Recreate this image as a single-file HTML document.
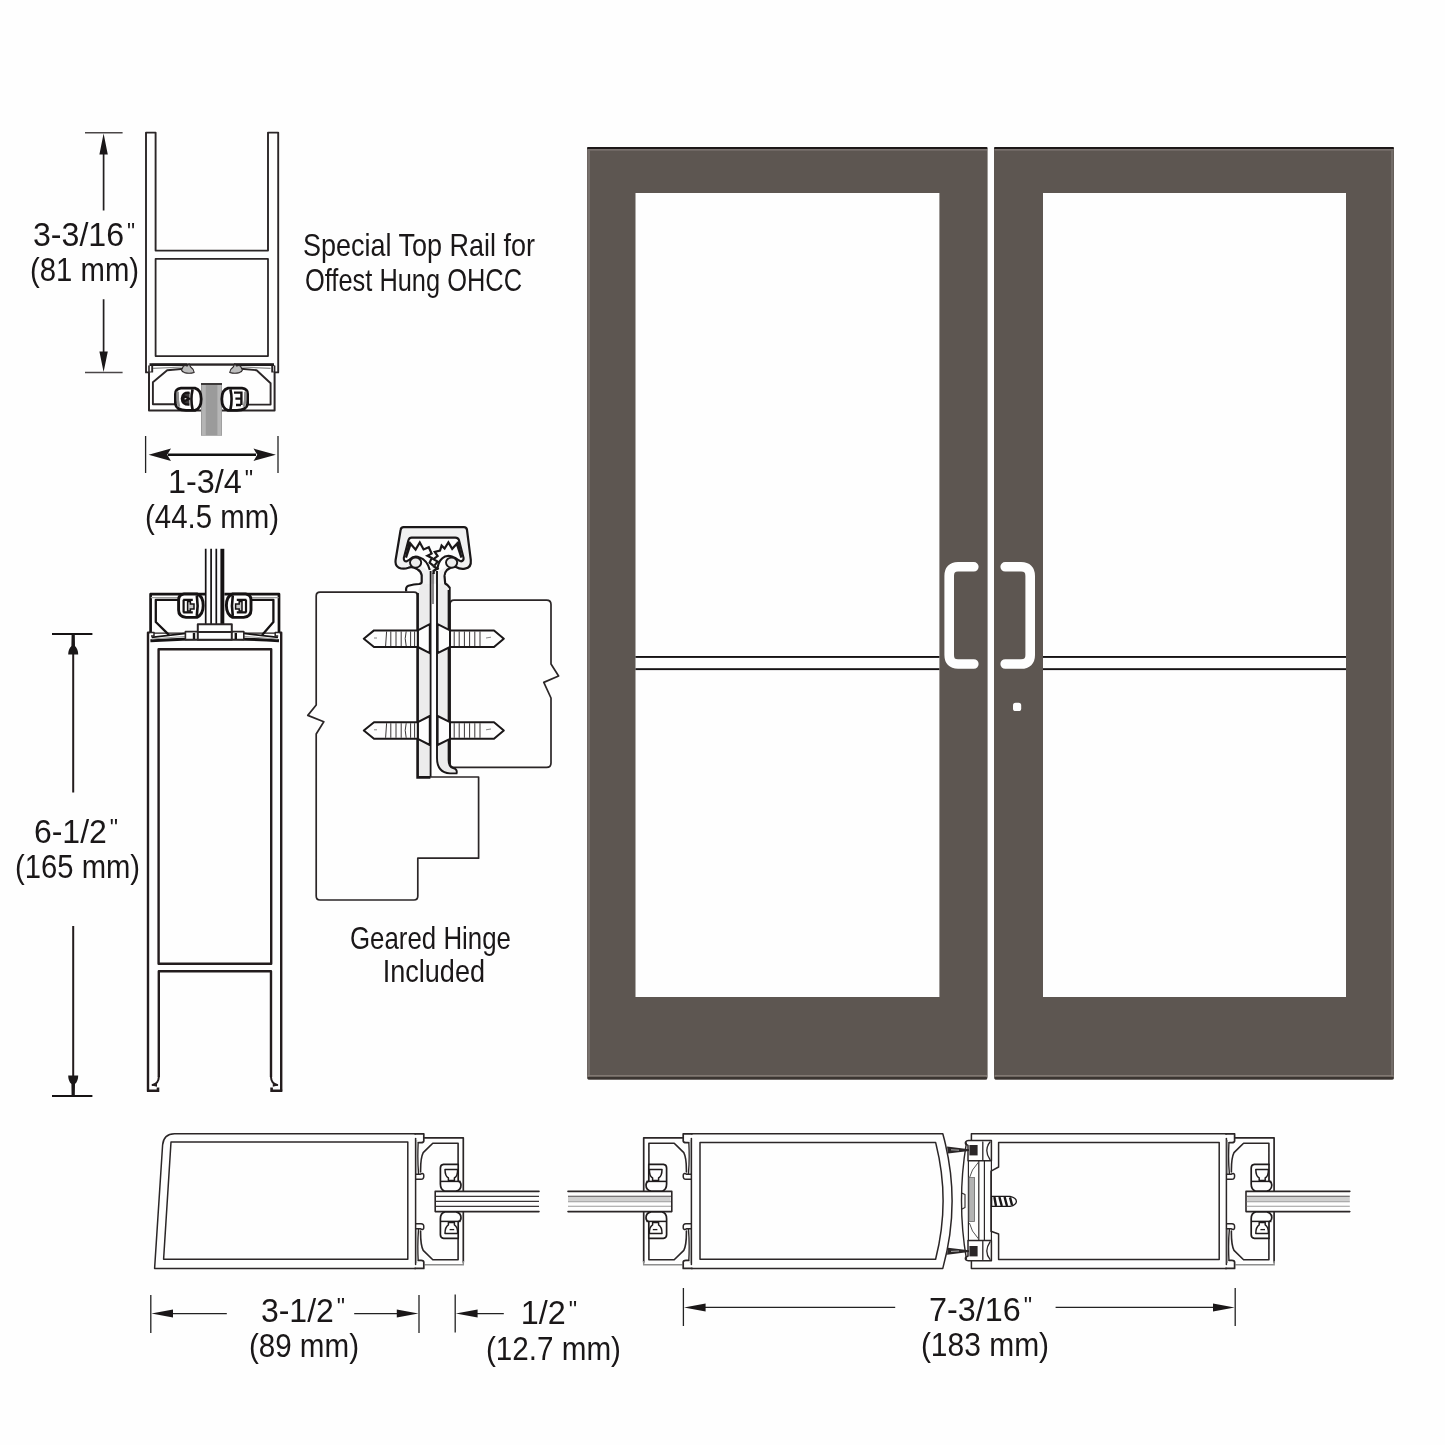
<!DOCTYPE html>
<html>
<head>
<meta charset="utf-8">
<title>Door diagram</title>
<style>
html,body{margin:0;padding:0;background:#fefefe;}
body{width:1445px;height:1445px;overflow:hidden;font-family:"Liberation Sans",sans-serif;}
svg{position:absolute;left:0;top:0;display:block;will-change:transform;}
text{font-family:"Liberation Sans",sans-serif;fill:#1a1718;}
.ln{fill:none;stroke-linejoin:round;stroke-linecap:round;}
.lw{stroke-linejoin:round;}
.lw:not([fill]){fill:#fefefe;}
.ln:not([stroke]),.lw:not([stroke]){stroke:#2b2627;}
.ln:not([stroke-width]),.lw:not([stroke-width]){stroke-width:1.6;}
.thin{fill:none;stroke:#2b2627;stroke-width:1.1;}
.dim{fill:none;stroke:#222;}
.dim:not([stroke-width]){stroke-width:1.3;}
.blk{fill:#1a1718;stroke:none;}
</style>
</head>
<body>
<svg width="1445" height="1445" viewBox="0 0 1445 1445">
<defs>
<linearGradient id="dg" x1="0" y1="0" x2="1" y2="0">
<stop offset="0" stop-color="#5c5651"/><stop offset="0.5" stop-color="#5f5853"/><stop offset="1" stop-color="#5b5450"/>
</linearGradient>
</defs>


<!-- DOORS -->
<g id="doors">
<!-- left door -->
<rect x="587" y="147" width="400.6" height="932.6" rx="2.5" fill="#5d5651"/>
<rect x="587" y="147" width="400.6" height="2.200" rx="1.1" fill="#1d1818"/>
<rect x="587.6" y="149" width="399.4" height="1.6" fill="#7b7370"/>
<rect x="587.4" y="150" width="2.6" height="928" fill="#77706c"/>
<rect x="587.6" y="1075.2" width="399.4" height="1.6" fill="#8a817a"/>
<rect x="587.6" y="1076.8" width="399.4" height="2.8" rx="1.2" fill="#3b3531"/>
<rect x="635.5" y="193" width="303.9" height="804" fill="#fefefe"/>
<!-- right door -->
<rect x="994" y="147" width="400" height="932.6" rx="2.5" fill="#5d5651"/>
<rect x="994" y="147" width="400" height="2.200" rx="1.1" fill="#1d1818"/>
<rect x="994.6" y="149" width="399" height="1.6" fill="#7b7370"/>
<rect x="1391" y="150" width="2.4" height="928" fill="#736c68"/>
<rect x="994.6" y="1075.2" width="399" height="1.6" fill="#8a817a"/>
<rect x="994.6" y="1076.8" width="399" height="2.8" rx="1.2" fill="#3b3531"/>
<rect x="1043" y="193" width="303" height="804" fill="#fefefe"/>
<!-- mid rails -->
<rect x="635.5" y="656" width="303.9" height="1.9" fill="#151213"/>
<rect x="635.5" y="668.2" width="303.9" height="1.9" fill="#151213"/>
<rect x="1043" y="656" width="303" height="1.9" fill="#151213"/>
<rect x="1043" y="668.2" width="303" height="1.9" fill="#151213"/>
<!-- handles -->
<path d="M973.8 566.8 H958 Q949.2 566.8 949.2 576 V655 Q949.2 664 958 664 H973.8" fill="none" stroke="#fefefe" stroke-width="9.6" stroke-linecap="round"/>
<path d="M1005.2 566.8 H1021 Q1030.2 566.8 1030.2 576 V655 Q1030.2 664 1021 664 H1005.2" fill="none" stroke="#fefefe" stroke-width="9.6" stroke-linecap="round"/>
<rect x="1013" y="702.8" width="8.2" height="8.2" rx="2.6" fill="#fefefe"/>
</g>

<!-- TEXT -->
<g id="labels">
<text id="t0" x="33.0" y="246.3" font-size="34.0" textLength="102.0" lengthAdjust="spacingAndGlyphs">3-3/16<tspan font-size="24" dx="3" dy="-6.4">&quot;</tspan></text>
<text id="t1" x="30.0" y="281.0" font-size="33.0" textLength="109.1" lengthAdjust="spacingAndGlyphs">(81 mm)</text>
<text id="t2" x="303.0" y="255.9" font-size="31.4" textLength="232.0" lengthAdjust="spacingAndGlyphs">Special Top Rail for</text>
<text id="t3" x="305.0" y="290.6" font-size="31.4" textLength="217.0" lengthAdjust="spacingAndGlyphs">Offest Hung OHCC</text>
<text id="t4" x="167.9" y="493.0" font-size="33.0" textLength="85.2" lengthAdjust="spacingAndGlyphs">1-3/4<tspan font-size="24" dx="3" dy="-6.4">&quot;</tspan></text>
<text id="t5" x="145.0" y="527.6" font-size="33.0" textLength="134.1" lengthAdjust="spacingAndGlyphs">(44.5 mm)</text>
<text id="t6" x="33.9" y="842.6" font-size="33.0" textLength="84.1" lengthAdjust="spacingAndGlyphs">6-1/2<tspan font-size="24" dx="3" dy="-6.4">&quot;</tspan></text>
<text id="t7" x="15.0" y="878.0" font-size="33.0" textLength="125.1" lengthAdjust="spacingAndGlyphs">(165 mm)</text>
<text id="t8" x="350.0" y="949.0" font-size="31.4" textLength="161.0" lengthAdjust="spacingAndGlyphs">Geared Hinge</text>
<text id="t9" x="382.7" y="982.0" font-size="31.4" textLength="102.3" lengthAdjust="spacingAndGlyphs">Included</text>
<text id="t10" x="260.9" y="1321.5" font-size="33.0" textLength="84.1" lengthAdjust="spacingAndGlyphs">3-1/2<tspan font-size="24" dx="3" dy="-6.4">&quot;</tspan></text>
<text id="t11" x="248.9" y="1356.8" font-size="33.0" textLength="110.1" lengthAdjust="spacingAndGlyphs">(89 mm)</text>
<text id="t12" x="520.8" y="1324.3" font-size="33.0" textLength="56.3" lengthAdjust="spacingAndGlyphs">1/2<tspan font-size="24" dx="3" dy="-6.4">&quot;</tspan></text>
<text id="t13" x="485.9" y="1359.6" font-size="33.0" textLength="135.1" lengthAdjust="spacingAndGlyphs">(12.7 mm)</text>
<text id="t14" x="929.0" y="1320.7" font-size="33.0" textLength="103.1" lengthAdjust="spacingAndGlyphs">7-3/16<tspan font-size="24" dx="3" dy="-6.4">&quot;</tspan></text>
<text id="t15" x="920.9" y="1356.0" font-size="33.0" textLength="128.2" lengthAdjust="spacingAndGlyphs">(183 mm)</text>
</g>

<!-- TOP RAIL -->
<g id="toprail">
<!-- U walls + outer -->
<path class="lw" stroke-width="1.9" d="M146 132.6 H155.6 V250.6 H268 V132.6 H278.2 V372.4 H272.2 V364.800 H152.2 V372.4 H146 Z"/>
<rect class="lw" x="155.6" y="258.9" width="112.4" height="97.2" stroke-width="1.8"/>
<!-- rail bottom thick line -->
<path d="M149.5 364.6 H187 M234 364.6 H274" stroke="#1f1b1c" stroke-width="2.6" fill="none"/>
<path d="M187 364.2 H234" stroke="#2b2627" stroke-width="1.2" fill="none"/>
<!-- channel outer -->
<path class="lw" stroke-width="2" d="M149 372.6 V410.6 H274.6 V372.6"/>
<path class="ln" d="M149 366 V372.6 M274.6 366 V372.6"/>
<!-- channel inner -->
<path class="lw" stroke-width="1.9" fill="#fefefe" d="M183.8 368.8 L167.2 370.2 L152.9 382.2 V404.2 H176 M248 404.6 H270.6 V383.2 L256.6 370.2 L241 368.8"/>
<path d="M153 368.400 L183 367 M270.600 368.400 L241 367" fill="none" stroke="#8a8a8a" stroke-width="1.200"/>
<!-- clips -->
<path d="M183.5 366 q2 -1.2 3.6 0 l2 -2 l1.6 3 q3 2 3.4 5.4 q-4.6 1.6 -9.6 0.2 q-2.6 -1 -3 -2.6 z" fill="#bdbdbd" stroke="#2b2627" stroke-width="1.1"/>
<path d="M240.4 366 q-2 -1.2 -3.6 0 l-2 -2 l-1.6 3 q-3 2 -3.4 5.4 q4.6 1.6 9.6 0.2 q2.6 -1 3 -2.6 z" fill="#bdbdbd" stroke="#2b2627" stroke-width="1.1"/>
<!-- glass -->
<rect x="201" y="383.4" width="21" height="52.4" fill="#9b9b9b"/>
<rect x="202" y="385" width="3.800" height="50.8" fill="#b4b4b4"/>
<rect x="217.400" y="385" width="3.800" height="50.8" fill="#b6b6b6"/>
<rect x="201" y="383" width="21" height="2" fill="#3d3a3a"/>
<!-- gaskets -->
<path d="M181 388.200 H195 Q201.200 390 201.200 399 Q201.200 408.400 195 410.400 H186 Q176.4 410 175.400 404 V394 Q175.400 388.800 181 388.200 Z" fill="#fefefe" stroke="#151213" stroke-width="2.800"/>
<path d="M177.600 391.600 Q177.200 400 179 406.800" fill="none" stroke="#8d8d8d" stroke-width="2.600"/>
<path d="M192.600 389.400 Q190.200 399.400 192.600 409.600" fill="none" stroke="#151213" stroke-width="2.600"/>
<path d="M189.600 392.800 Q182 392 181.800 398.600 Q182 404.800 189.400 404.600 M183.600 396 l5.600 2.800 l-5.600 2.800 z" fill="#151213" stroke="#151213" stroke-width="2.200" stroke-linejoin="round" fill-opacity="0.850"/>
<path d="M242 388.200 H228 Q221.800 390 221.800 399 Q221.800 408.400 228 410.400 H237 Q246.600 410 247.600 404 V394 Q247.600 388.800 242 388.200 Z" fill="#fefefe" stroke="#151213" stroke-width="2.800"/>
<path d="M245.400 391.600 Q245.800 400 244 406.800" fill="none" stroke="#8d8d8d" stroke-width="2.600"/>
<path d="M230.400 389.400 Q232.800 399.400 230.400 409.600" fill="none" stroke="#151213" stroke-width="2.600"/>
<path d="M234 392.600 H241.400 V405 M241.400 398.600 H235.400 M236 405 H241" fill="none" stroke="#151213" stroke-width="2.400"/>
<!-- dimension 1-3/4 -->
<path class="dim" d="M145.6 436 V473 M278 436 V473"/>
<path d="M168 454.8 H256" stroke="#111" stroke-width="2.5" fill="none"/>
<path class="blk" d="M148.6 454.8 L171 448.6 L167.2 454.8 L171 461 Z M275.9 454.8 L253.5 448.6 L257.3 454.8 L253.5 461 Z"/>
<!-- dimension 3-3/16 -->
<path d="M85 132.8 H122.6 M85 372.600 H122.6" fill="none" stroke="#4a4647" stroke-width="1.5"/>
<path d="M103.6 150 V210.600 M103.6 299.300 V354" fill="none" stroke="#231f20" stroke-width="1.700"/>
<path class="blk" d="M103.6 133.400 L99.400 154.400 H107.800 Z M103.6 372 L99.400 351.600 H107.800 Z"/>
</g>

<!-- BOTTOM RAIL -->
<g id="botrail">
<!-- rail body -->
<path d="M148 632.6 H281.2 V1091.4 H148 Z" fill="#fefefe" stroke="none"/>
<path d="M160 972 H270 V1092.600 H160 Z" fill="#fefefe" stroke="none"/>
<path fill="none" stroke="#231c1d" stroke-width="2.4" stroke-linejoin="round" d="M148 1091.4 V632.6 H281.2 V1091.4 M158.8 1077 V971.2 H271 V1077"/>
<path fill="none" stroke="#231c1d" stroke-width="2" stroke-linecap="round" d="M158.8 1077 Q158.600 1083.400 152.600 1085 M271 1077 Q271.200 1083.400 277.200 1085"/>
<path fill="none" stroke="#231c1d" stroke-width="2.6" d="M147 1090.800 H158 V1087.400 M282.200 1090.800 H271.600 V1087.400"/>
<path d="M152 1085.600 l5 -1.800 v3 z M277.800 1085.600 l-5 -1.800 v3 z" fill="#231c1d"/>
<rect class="lw" x="158.6" y="649.2" width="112.6" height="314.6" stroke="#231c1d" stroke-width="2.4"/>
<!-- channel -->
<path class="lw" stroke-width="2.700" stroke="#151213" d="M150.6 632.6 V594.2 H279 V632.6"/>
<path class="ln" stroke="#151213" stroke-width="2.300" d="M180 599.8 H155.8 V622 L168.4 634.4 M251 599.8 H273.4 V622 L262.6 634.4"/>
<path d="M150.8 597.6 H200 M229 597.6 H278.6" stroke="#9a9a9a" stroke-width="1.2" fill="none"/>
<!-- bottom thick bar of channel -->
<path d="M150.4 640.8 Q215 636.5 279 640.8" stroke="#151213" stroke-width="3" fill="none"/>
<path d="M151.6 637.4 L186 633.4 M278 637.4 L243.6 633.4" stroke="#151213" stroke-width="1.6" fill="none"/>
<path d="M152 639 L190 636 M277.4 639 L239.6 636" stroke="#9a9a9a" stroke-width="1" fill="none"/>
<path class="lw" stroke-width="1.5" d="M149 632.6 h5 v3.4 h-3 M280.2 632.6 h-5 v3.4 h3"/>
<!-- glass -->
<rect x="205" y="548.8" width="19.4" height="76" fill="#fefefe"/>
<path d="M205.7 548.8 V624 M211.1 548.8 V624 M216.3 548.8 V624" stroke="#151213" stroke-width="1.7" fill="none"/>
<rect x="220.4" y="548.8" width="3.9" height="76" fill="#151213"/>
<!-- setting block -->
<rect class="lw" x="185.4" y="631.6" width="58.4" height="8" stroke-width="1.6"/>
<rect class="lw" x="197.8" y="624.2" width="34" height="15.6" stroke-width="2"/>
<path class="ln" stroke-width="1.8" d="M197.8 632 H231.8"/>
<path d="M194 633 v6 M235.8 633 v6" stroke="#151213" stroke-width="2.4"/>
<!-- gaskets -->
<path d="M184 594 H197 Q203.2 596 203.2 605.6 Q203.2 614.6 197 617.4 H186 Q178.6 616.6 178.6 610 V600 Q178.6 594.6 184 594 Z" fill="#fefefe" stroke="#151213" stroke-width="2.900"/>
<path d="M196.8 595.4 Q198.4 605.6 196.8 616" fill="none" stroke="#151213" stroke-width="2.6"/>
<path d="M183.2 599.8 h9.6 M183.2 612.4 h9.6 M183.6 599.8 v12.6" fill="none" stroke="#151213" stroke-width="2.200"/>
<path d="M187.6 601.4 h2.8 v2.6 h3.6 v5 h-3.6 v2 h-2.8 z" fill="#c9c9c9" stroke="#151213" stroke-width="1.5"/>
<path d="M245.6 594 H232.6 Q226.4 596 226.4 605.6 Q226.4 614.6 232.6 617.4 H243.6 Q251 616.6 251 610 V600 Q251 594.6 245.6 594 Z" fill="#fefefe" stroke="#151213" stroke-width="2.900"/>
<path d="M232.8 595.4 Q231.2 605.6 232.8 616" fill="none" stroke="#151213" stroke-width="2.6"/>
<path d="M246.4 599.8 h-9.6 M246.4 612.4 h-9.6 M246 599.8 v12.6" fill="none" stroke="#151213" stroke-width="2.200"/>
<path d="M242 601.4 h-2.8 v2.6 h-3.6 v5 h3.6 v2 h2.8 z" fill="#c9c9c9" stroke="#151213" stroke-width="1.5"/>
<!-- dimension 6-1/2 -->
<path d="M52 634 H92.4 M52 1096 H92.4" stroke="#151213" stroke-width="2" fill="none"/>
<path d="M73.2 650 V792.6 M73.2 926 V1080" stroke="#231c1d" stroke-width="2" fill="none"/>
<path class="blk" d="M71.6 634.6 H74.8 L75 646 Q78.2 649 78.2 654.6 H68.2 Q68.2 649 71.4 646 Z M71.6 1095.4 H74.8 L75 1084 Q78.2 1081 78.2 1075.4 H68.2 Q68.2 1081 71.4 1084 Z"/>
</g>

<!-- HINGE -->
<g id="hinge">
<!-- left block -->
<path class="lw" stroke-width="1.7" d="M320 592.2 H414 Q417.8 592.2 417.8 596 V777 H478.6 V858.2 H417.8 V896 Q417.8 900 414 900 H320 Q316.2 900 316.2 896 V734 L323.8 721.8 L307.8 715.4 L316.2 705 V596 Q316.2 592.2 320 592.2 Z"/>
<!-- right block -->
<path class="lw" stroke-width="1.7" d="M454 600.2 H546.6 Q551 600.2 551 604.6 V664 L558.6 676 L543.8 682.4 L551 698 V763 Q551 767.4 546.6 767.4 H454 Q450 767.4 450 763 V604.6 Q450 600.2 454 600.2 Z"/>
<!-- stem leaves -->
<path d="M418.4 590 V776.8 H430.4 V566 H421.7 V583 Z" fill="#ececec" stroke="none"/>
<path d="M437 566 V758 Q437 772.6 450 773.4 H456.6 Q457.6 769 453 768 Q448.6 767 448.6 760 V587 L445.2 583.5 L444.5 566 Z" fill="#ececec" stroke="none"/>
<path d="M417.600 593 V777.4 H430.4" stroke="#1a1718" stroke-width="2.6" fill="none"/>
<path d="M449.8 587 V764" stroke="#1a1718" stroke-width="1.8" fill="none"/>
<!-- cap -->
<path d="M421.7 584 V575.2 Q421 571 417.6 569.4 Q412 566 408.4 567.8 Q403 569.8 398.4 567.4 Q394.8 565 395.6 560 L400.6 530 Q401 527.2 403.6 527.2 H464 Q466.6 527.2 467 530 L470.8 560 Q471.6 567.8 465 568.6 Q460 569.4 456 567 Q451 566.6 446.8 570.2 Q444.4 572.6 444.5 575.9 L445.2 583.5 Z" fill="#f1f1f1" stroke="none"/>
<path d="M406.2 591.4 Q405.4 587 408.4 585.8 Q414 584.2 419 584 Q421.7 583.6 421.7 582 V575.2 Q421 571 417.6 569.4 Q412 566 408.4 567.8 Q403 569.8 398.4 567.4 Q394.8 565 395.6 560 L400.6 530 Q401 527.2 403.6 527.2 H464 Q466.6 527.2 467 530 L470.8 560 Q471.6 567.8 465 568.6 Q460 569.4 456 567 Q451 566.6 446.8 570.2 Q444.4 572.6 444.5 575.9 L445.2 583.5 L447.4 585 L449.6 587.4" fill="none" stroke="#1a1718" stroke-width="2.2" stroke-linejoin="round"/>
<!-- cap inner cavity -->
<path d="M411.6 537.6 H455.4 Q458 537.6 459 540.2 L463.6 558 Q463.8 561 461 561.4 L457.6 559 Q452 554.6 447.6 558 Q444.4 561.6 446.6 566.6 L437.6 572 L437 566 L431 566 L430.4 572 L421.6 566 Q423.4 560.6 419.6 557.6 Q414.6 554.6 409.6 559.6 L406.6 561.4 Q403.6 561.4 403.8 558 L408.4 540.2 Q409.2 537.6 411.6 537.6 Z" fill="#fdfdfd" stroke="none"/>
<path d="M437.4 570 Q438 562 442 558.6 Q446 554.6 452 556.4 Q456 557.6 458.6 560.2 L461 561.4 Q463.8 561 463.6 558 L459 540.2 Q458 537.6 455.4 537.6 H411.6 Q409.2 537.6 408.4 540.2 L403.8 558 Q403.6 561.4 406.6 561.4 L409.6 559.6 Q414.6 554.6 419.6 557.6 Q427 560 429.8 570" fill="none" stroke="#1a1718" stroke-width="2.1" stroke-linejoin="round"/>
<!-- knuckle circles -->
<ellipse cx="415.6" cy="562.6" rx="5.6" ry="5" fill="#ececec" stroke="#1a1718" stroke-width="1.9"/>
<ellipse cx="451.6" cy="562.6" rx="5.6" ry="5" fill="#ececec" stroke="#1a1718" stroke-width="1.9"/>
<path d="M409 557 L413 556 L421 558 L424 566 L422 571 L410 566 Z" fill="#ececec" stroke="none" opacity="0"/>
<path d="M430.6 571 V776.8" stroke="#1a1718" stroke-width="1.800" fill="none"/><path d="M433 573 V604" stroke="#1a1718" stroke-width="1" fill="none"/>
<path d="M437 571 V758 Q437 772.6 450 773.4 H456.6 Q457.6 769 453 768 Q448.6 767 448.6 760 V590" fill="none" stroke="#1a1718" stroke-width="1.9"/>
<!-- gear teeth -->
<path d="M409.6 541.6 L406 557.6 L410.6 543.8 L415.6 549.6 L419.8 542.4 L423.6 549.4 L428.8 547.2 L431.6 553.6 L427.4 555.8 L431.8 558 L429.6 562.6 L433.6 565.8" fill="none" stroke="#1a1718" stroke-width="2.2" stroke-linejoin="miter"/>
<path d="M457.8 541.6 L461.4 557.6 L456.8 543.8 L452.2 548.8 L448.4 542.4 L444.6 548.6 L441.6 545.6 L440 550.6 L434.8 552 L437.6 556 L433.4 559.2 L437.6 561.6 L434.4 565.6" fill="none" stroke="#1a1718" stroke-width="2.2" stroke-linejoin="miter"/>
<path d="M433.2 566 L437.2 568.6 L433.6 571 V574" fill="none" stroke="#1a1718" stroke-width="2.4"/>
<!-- screws -->
<g id="screw1">
<path d="M417.8 630.4 L429.8 624.2 V653.2 L417.8 647 Z M450 630.4 L437.6 624.2 V653.2 L450 647 Z" fill="#fdfdfd" stroke="#1a1718" stroke-width="2" stroke-linejoin="round"/>
<path d="M417.8 630.4 H374 L363.8 638.7 L374 647 H417.8 Z M450 630.4 H494 L503.8 638.7 L494 647 H450 Z" fill="#fdfdfd" stroke="#1a1718" stroke-width="2" stroke-linejoin="round"/>
<path d="M386.6 631.4 l-1 14.6 M390.8 631.4 v14.6 M396 631.4 v14.6 M401.2 631.4 v14.6 M406.2 631.4 q-2 7 0 14.6 M410.6 631.4 v14.6 M414.6 631.4 v14.6 M454.2 631.4 v14.6 M459.2 631.4 v14.6 M464.4 631.4 v14.6 M469.6 631.4 v14.6 M474.8 631.4 v14.6 M480 631.4 v14.6" stroke="#3a3637" stroke-width="1" fill="none"/>
<path d="M374 638 h3 M486 638 l5 -0.8" stroke="#777" stroke-width="0.9" fill="none"/>
</g>
<use href="#screw1" y="91.8"/>
</g>

<!-- BOTTOM SECTIONS -->
<g id="bottom">
<defs>
<g id="chanR">
<!-- channel body -->
<path d="M424.6 1137.8 H463.3 V1265 H424.6 L416 1264 V1139 Z" fill="#fefefe" stroke="none"/>
<path class="ln" stroke-width="1.7" d="M424.6 1137.8 H463.3 V1262"/>
<path d="M424.6 1264.8 H463.3 V1261" fill="none" stroke="#8e8e8e" stroke-width="1.5"/>
<path class="ln" stroke-width="1.6" d="M458.1 1164.6 V1143.2 H432.8 L423.2 1152.6 Q420.4 1158 420.6 1172 M458.1 1238.2 V1259.8 H432.8 L423.2 1250.4 Q420.4 1245 420.6 1231"/>
<!-- stile wall / spring clip -->
<path class="ln" stroke-width="1.5" d="M415.6 1138.4 V1264.6"/>
<path d="M418.2 1142 Q417.2 1160 418.6 1174 M418.2 1261 Q417.2 1243 418.6 1229" fill="none" stroke="#2b2627" stroke-width="1.4"/>
<path d="M416.6 1140 V1174 M416.6 1263 V1229" fill="none" stroke="#9a9a9a" stroke-width="1.2"/>
<path class="ln" stroke-width="1.5" d="M415.8 1174.2 h4.4 q3.8 -1.8 3.6 1.6 q0.2 3.6 -3 3.4 h-4.8 M415.8 1228.8 h4.4 q3.8 1.8 3.6 -1.6 q0.2 -3.6 -3 -3.4 h-4.8"/>
<!-- stile hooks top & bottom -->
<path class="ln" stroke-width="1.7" d="M415 1133.8 H423.8 V1141 Q423.4 1143 420 1142.6 H418.6 M415 1268.4 H423.8 V1262 Q423.4 1260 420 1260.4 H418.6"/>
<!-- glass -->
<rect x="435.2" y="1191.4" width="103.8" height="20.2" fill="#fefefe"/>
<path class="ln" stroke-width="1.6" d="M539 1191.4 H435.2 V1211.6 H539"/>
<!-- gasket upper -->
<path d="M443.6 1164.4 H458.2 V1181 Q461 1182 461 1185 Q461 1190 456 1191.2 H445 Q440.4 1190 440.4 1184 V1168 Q440.4 1164.8 443.6 1164.4 Z" fill="#fefefe" stroke="#1f1b1c" stroke-width="1.7" stroke-linejoin="round"/>
<path d="M440.8 1181.4 H460.6" fill="none" stroke="#1f1b1c" stroke-width="1.5"/>
<path d="M445 1169.4 H457.6 Q457.8 1176 454.4 1178 V1180.4 H448.4 V1178 Q445 1176 445 1169.4 Z" fill="#fefefe" stroke="#1f1b1c" stroke-width="1.5" stroke-linejoin="round"/>
<!-- gasket lower -->
<path d="M443.6 1238.4 H458.2 V1221.8 Q461 1220.8 461 1217.8 Q461 1212.8 456 1211.8 H445 Q440.4 1212.8 440.4 1218.8 V1234.8 Q440.4 1238 443.6 1238.4 Z" fill="#fefefe" stroke="#1f1b1c" stroke-width="1.7" stroke-linejoin="round"/>
<path d="M440.8 1221.4 H460.6" fill="none" stroke="#1f1b1c" stroke-width="1.5"/>
<path d="M445 1233.4 H457.6 Q457.8 1226.8 454.4 1224.8 V1222.4 H448.4 V1224.8 Q445 1226.8 445 1233.4 Z" fill="#fefefe" stroke="#1f1b1c" stroke-width="1.5" stroke-linejoin="round"/>
<path d="M449.6 1229.6 h4.6" stroke="#1f1b1c" stroke-width="1.3"/>
</g>
<g id="gA"><path d="M436 1196.4 H539 M436 1201.4 H539 M436 1206.3 H539" fill="none" stroke="#3a3637" stroke-width="1.2"/></g>
<g id="gB"><rect x="436.400" y="1197" width="102.600" height="4.600" fill="#d0d0d0"/><path d="M436 1196.300 H539" fill="none" stroke="#4a4647" stroke-width="1.100"/><path d="M436 1201.800 H539 M436 1206.300 H539" fill="none" stroke="#9a9a9a" stroke-width="1.100"/></g>
</defs>

<!-- stile 1 -->
<path class="lw" stroke-width="1.5" d="M416 1133.8 H174.500 Q163.600 1134 162.600 1145 L154.6 1268.4 H416"/>
<path class="lw" stroke-width="1.5" d="M171 1142 H407.8 V1259.2 H163.6 Z"/>
<use href="#chanR"/><use href="#gA"/>

<!-- stile 2 (curved right) -->
<path class="lw" stroke-width="1.5" d="M691 1133.8 H942.8 Q961.4 1201 942.8 1268.4 H691"/>
<path class="lw" stroke-width="1.5" d="M700 1142.4 H935.6 Q950.6 1200.6 935.6 1259.2 H700 Z"/>
<use href="#chanR" transform="translate(1107 0) scale(-1 1)"/><use href="#gB" transform="translate(1107 0) scale(-1 1)"/>

<!-- stile 3 -->
<path d="M1226.6 1133.8 H971.4 V1268.4 H1226.6 Z" fill="#fefefe" stroke="none"/><path class="ln" stroke-width="1.5" d="M1226.6 1133.8 H971.4 V1141 M971.4 1260.400 V1268.4 H1226.6"/>
<path class="lw" stroke-width="1.5" d="M998.6 1142.6 H1219.2 V1259.4 H998.6 V1234 L991 1231.2 V1171.2 L998.6 1167 Z"/>
<use href="#chanR" transform="translate(810.8 0)"/><use href="#gB" transform="translate(810.8 0)"/>

<!-- meeting stile weather strip -->
<g id="astragal">
<path class="lw" stroke-width="1.5" d="M991.4 1140.6 H968.4 Q964.6 1141 965.6 1144 L968 1145.4 V1160.8 H991.4 Z M991.4 1260.8 H968.4 Q964.6 1260.4 965.6 1257.4 L968 1256 V1240.6 H991.4 Z"/>
<path class="ln" stroke-width="1.4" d="M966.4 1143 Q956.6 1201 966.4 1259"/>
<path class="ln" stroke-width="1.2" d="M968.4 1161 V1240.4 M978.8 1161 V1240.4 M984.4 1161 V1240.4 M991.4 1161 V1240.4"/>
<path d="M978.6 1162 Q971 1170 969.4 1178 M978.6 1239 Q971 1231 969.4 1223" fill="none" stroke="#555" stroke-width="1"/>
<rect x="969" y="1177.6" width="5.6" height="44" fill="#b3b3b3" stroke="#6a6a6a" stroke-width="0.8"/>
<path d="M961.6 1193 l3.4 1.6 v13 l-3.4 1.6" class="ln" stroke-width="1.1"/>
<rect x="969.4" y="1145" width="8.2" height="10.4" fill="#2a2627"/>
<rect x="969.4" y="1246" width="8.2" height="10.4" fill="#2a2627"/>
<path class="ln" stroke-width="1.3" d="M990 1142 Q983.6 1150 990 1159.6 M982.8 1142 V1160 M990 1259.4 Q983.6 1251.4 990 1241.8 M982.8 1259.4 V1241.4"/>
<path d="M947 1146.4 L969 1149.2 V1151 L948 1153.4 Z M947 1254.8 L969 1252 V1250.2 L948 1247.800 Z" fill="#2a2627"/>
<path d="M951 1149.800 l8 0.400 M951 1251.400 l8 -0.400" stroke="#bdbdbd" stroke-width="0.9"/>
</g>
<!-- screw -->
<path d="M991.6 1196.4 H1010 Q1016.4 1198 1016.4 1201.400 Q1016.400 1204.800 1010 1206.400 H991.600 Z" fill="#fefefe" stroke="#1a1718" stroke-width="1.3"/>
<path d="M994.4 1197 l1.600 9 M999.400 1197 l2.400 9 M1004.600 1197 l2.400 9 M1010 1197.400 l2 7.600" stroke="#1a1718" stroke-width="2.400" fill="none"/>

<!-- dimensions -->
<path class="dim" d="M150.800 1295 V1333 M419 1295 V1333 M455.200 1294.600 V1332.600 M683.400 1288 V1326 M1235.200 1288 V1326"/>
<path class="dim" stroke-width="1.200" d="M170 1313.600 H226.800 M354.200 1313.600 H400 M475 1313.600 H503.800 M703 1307.400 H895.200 M1055.600 1307.400 H1216"/>
<path class="blk" d="M151.400 1313.600 L173 1309.600 V1317.600 Z M418.400 1313.600 L396.800 1309.600 V1317.600 Z M455.800 1313.600 L477.600 1309.600 V1317.600 Z M684 1307.400 L705.600 1303.400 V1311.400 Z M1234.600 1307.400 L1213 1303.400 V1311.400 Z"/>
</g>

<!--SECTIONS-->
</svg>
</body>
</html>
